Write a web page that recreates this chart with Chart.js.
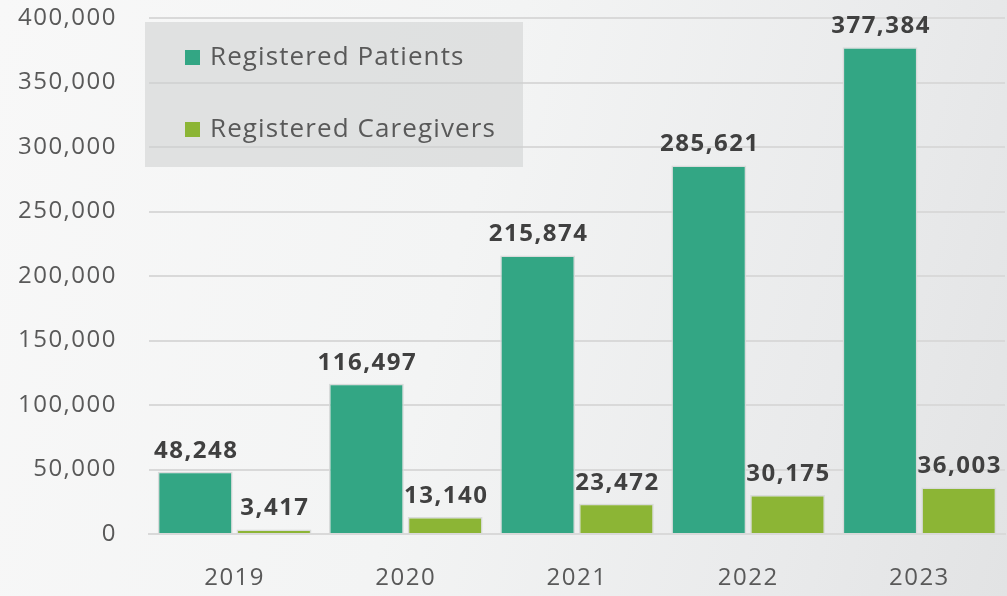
<!DOCTYPE html>
<html>
<head>
<meta charset="utf-8">
<script src="https://cdn.jsdelivr.net/npm/chart.js@4"></script>
<style>
  html, body { margin: 0; padding: 0; }
  body {
    width: 1007px; height: 596px; overflow: hidden;
    background: linear-gradient(105deg, #f8f8f8 0%, #f3f4f4 45%, #e9eaeb 80%, #e2e3e4 100%);
  }
  #wrap { width: 1007px; height: 596px; }
</style>
</head>
<body>
<div id="wrap"><canvas id="chart"></canvas></div>
<script>
const years = ['2019', '2020', '2021', '2022', '2023'];
const patients = [48248, 116497, 215874, 285621, 377384];
const caregivers = [3417, 13140, 23472, 30175, 36003];
const seriesNames = ['Registered Patients', 'Registered Caregivers'];
const seriesColors = ['#33a684', '#8cb535'];

const FONT = '"Open Sans", Lato, sans-serif';

// the original text is set a little loose, so widen the tracking
const spacing = {
  id: 'spacing',
  beforeDraw(chart) { chart.ctx.letterSpacing = '1.5px'; }
};

// value labels above each bar
const valueLabels = {
  id: 'valueLabels',
  afterDatasetsDraw(chart) {
    const ctx = chart.ctx;
    ctx.save();
    ctx.letterSpacing = '1.5px';
    ctx.font = 'bold 24px ' + FONT;
    ctx.fillStyle = '#404040';
    ctx.textAlign = 'center';
    ctx.textBaseline = 'bottom';
    chart.data.datasets.forEach((ds, i) => {
      chart.getDatasetMeta(i).data.forEach((bar, j) => {
        ctx.fillText(ds.data[j].toLocaleString('en-US'), bar.x + 1, bar.y - 9);
      });
    });
    ctx.restore();
  }
};

// legend box drawn like the original (grey panel top-left)
const legendBox = {
  id: 'legendBox',
  beforeDatasetsDraw(chart) {
    const ctx = chart.ctx;
    ctx.save();
    ctx.fillStyle = 'rgba(205,207,208,0.55)';
    ctx.fillRect(145, 22, 378, 145);
    ctx.letterSpacing = '1.1px';
    ctx.font = '26px ' + FONT;
    ctx.textBaseline = 'middle';
    ctx.textAlign = 'left';
    seriesNames.forEach((name, i) => {
      const y = 58 + i * 72;
      ctx.fillStyle = seriesColors[i];
      ctx.fillRect(185, y - 8, 15, 15);
      ctx.fillStyle = '#595959';
      ctx.fillText(name, 210, y);
    });
    ctx.restore();
  }
};

new Chart(document.getElementById('chart'), {
  type: 'bar',
  data: {
    labels: years,
    datasets: [
      { label: seriesNames[0], data: patients, backgroundColor: seriesColors[0] },
      { label: seriesNames[1], data: caregivers, backgroundColor: seriesColors[1] }
    ]
  },
  options: {
    responsive: true,
    maintainAspectRatio: false,
    animation: false,
    layout: { padding: { top: 18, right: 2, left: 0, bottom: 0 } },
    datasets: {
      bar: {
        categoryPercentage: 0.92,
        barPercentage: 0.95,
        borderWidth: 1.5,
        borderColor: 'rgba(214,216,216,0.9)',
        borderSkipped: 'bottom'
      }
    },
    plugins: {
      legend: { display: false },
      tooltip: { enabled: false }
    },
    scales: {
      x: {
        grid: { display: false, drawTicks: false },
        border: { display: true, color: '#d9d9d9', width: 2 },
        ticks: { color: '#595959', font: { family: FONT, size: 24 }, padding: 30 },
        afterFit(s) { s.height = 62; }
      },
      y: {
        min: 0, max: 400000,
        grid: { color: '#d9d9d9', lineWidth: 2, drawTicks: false },
        border: { display: false },
        ticks: {
          stepSize: 50000,
          color: '#595959',
          font: { family: FONT, size: 24 },
          padding: 32,
          callback: v => v.toLocaleString('en-US')
        },
        afterFit(s) { s.width = 149; s.paddingTop = 0; s.paddingBottom = 0; }
      }
    }
  },
  plugins: [spacing, legendBox, valueLabels]
});
</script>
</body>
</html>
